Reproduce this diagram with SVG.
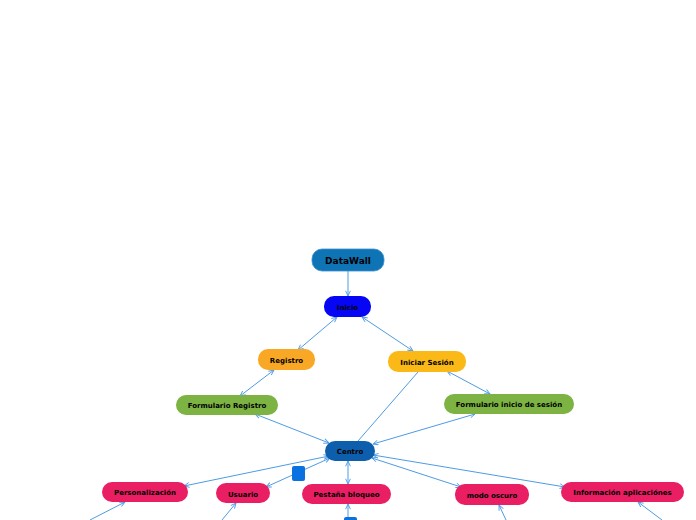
<svg xmlns="http://www.w3.org/2000/svg" width="696" height="520" viewBox="0 0 696 520">
<defs>
<marker id="ah" viewBox="0 0 8 8" refX="7.5" refY="4" markerWidth="6" markerHeight="6" orient="auto-start-reverse" markerUnits="userSpaceOnUse">
<path d="M0.5,0.8 L7.5,4 L0.5,7.2" fill="none" stroke="#4d9be6" stroke-width="1.2"/>
</marker>
</defs>
<style>
.n text{font-family:"DejaVu Sans",Verdana,sans-serif;font-weight:bold;font-size:7px;fill:#000;text-anchor:middle;dominant-baseline:central}
.c line{stroke:#4d9be6;stroke-width:1;fill:none}
.b{marker-start:url(#ah);marker-end:url(#ah)}
.e{marker-end:url(#ah)}
</style>
<rect width="696" height="520" fill="#fff"/>
<g class="c" id="connectors">
<line class="e" x1="348" y1="271" x2="348" y2="296"/>
<line class="b" x1="337" y1="317" x2="298" y2="350"/>
<line class="b" x1="362" y1="317" x2="413" y2="351"/>
<line class="b" x1="274" y1="370" x2="240" y2="396"/>
<line class="b" x1="447" y1="371" x2="490" y2="394"/>
<line x1="418" y1="372" x2="358" y2="441"/>
<line class="b" x1="255" y1="414" x2="329" y2="443"/>
<line class="b" x1="475" y1="414" x2="373" y2="444"/>
<line class="b" x1="329" y1="456" x2="184" y2="486"/>
<line class="b" x1="330" y1="458" x2="266" y2="487"/>
<line class="b" x1="348" y1="461" x2="348" y2="484"/>
<line class="b" x1="372" y1="458" x2="461" y2="487"/>
<line class="b" x1="373" y1="455" x2="565" y2="487"/>
<line class="e" x1="90" y1="520" x2="125" y2="502"/>
<line class="e" x1="222" y1="520" x2="236" y2="503"/>
<line class="e" x1="348" y1="518" x2="348" y2="504"/>
<line class="e" x1="506" y1="520" x2="499" y2="505"/>
<line class="e" x1="662" y1="520" x2="638" y2="502"/>
</g>
<rect x="292" y="466" width="13" height="15" rx="2" fill="#0a72e0"/>
<rect x="344" y="517" width="13" height="8" rx="2" fill="#0a72e0"/>
<g class="n" id="datawall"><rect x="312" y="249" width="72" height="22" rx="10" fill="#0f74b5" stroke="#3a8fd0" stroke-width="0.8"/><text x="348" y="261" style="font-size:9px">DataWall</text></g>
<g class="n" id="inicio"><rect x="324" y="296" width="47" height="21" rx="10" fill="#0606f4"/><text x="347.5" y="307.5">Inicio</text></g>
<g class="n" id="registro"><rect x="258" y="349" width="57" height="21" rx="10" fill="#f9a825"/><text x="286.5" y="360.5">Registro</text></g>
<g class="n" id="iniciar-sesion"><rect x="388" y="351" width="78" height="21" rx="10" fill="#fbb917"/><text x="427" y="362.5">Iniciar Sesión</text></g>
<g class="n" id="formulario-registro"><rect x="176" y="395" width="102" height="20" rx="10" fill="#7cb342"/><text x="227" y="406">Formulario Registro</text></g>
<g class="n" id="formulario-inicio"><rect x="444" y="394" width="130" height="20" rx="10" fill="#7cb342"/><text x="509" y="405">Formulario inicio de sesión</text></g>
<g class="n" id="centro"><rect x="325" y="441" width="50" height="20" rx="10" fill="#0d5fad"/><text x="350" y="452">Centro</text></g>
<g class="n" id="personalizacion"><rect x="102" y="482" width="86" height="20" rx="10" fill="#e91e63"/><text x="145" y="493">Personalización</text></g>
<g class="n" id="usuario"><rect x="216" y="483" width="54" height="20" rx="10" fill="#e91e63"/><text x="243" y="494.5">Usuario</text></g>
<g class="n" id="pestana-bloqueo"><rect x="302" y="484" width="89" height="20" rx="10" fill="#e91e63"/><text x="346.5" y="495">Pestaña bloqueo</text></g>
<g class="n" id="modo-oscuro"><rect x="455" y="484" width="74" height="21" rx="10" fill="#e91e63"/><text x="492" y="495.5">modo oscuro</text></g>
<g class="n" id="informacion"><rect x="561" y="482" width="123" height="20" rx="10" fill="#e91e63"/><text x="622.5" y="493">Información aplicaciónes</text></g>
</svg>
